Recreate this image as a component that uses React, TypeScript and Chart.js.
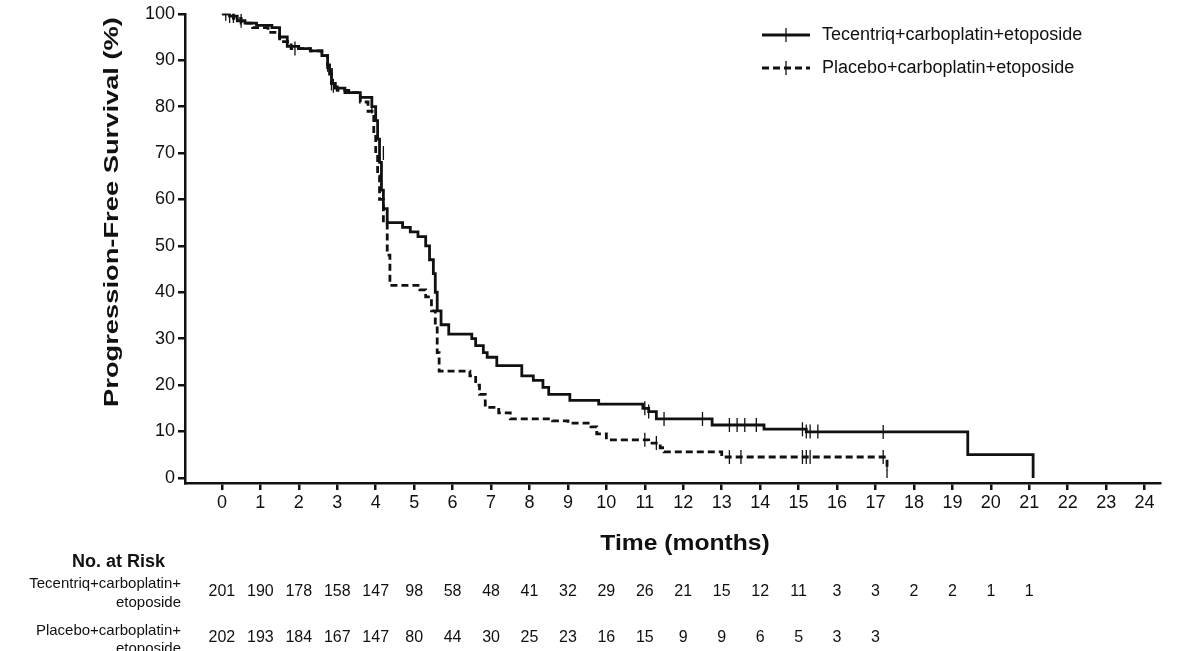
import React, { useEffect, useRef } from "react";
import { Chart, registerables } from "chart.js";
Chart.register(...registerables);

const tecTime = [0,0.2,0.4,0.6,0.9,1.3,1.5,1.7,2.0,2.3,2.6,2.75,2.8,2.85,2.95,3.2,3.6,3.9,4.0,4.05,4.1,4.15,4.2,4.3,4.7,4.9,5.1,5.3,5.4,5.5,5.55,5.6,5.7,5.9,6.5,6.6,6.8,6.9,7.15,7.8,8.1,8.35,8.5,9.05,9.8,10.95,11.1,11.3,12.75,14.1,15.2,19.4,21.1];
const tecSurv = [100,99.5,98.5,98,97.5,97,95,93,92.5,92,91,89,87,85,84,83,82,80,77,73,68,62,58,55,54,53,52,50,47,44,40,36,33,31,30,28.5,27,26,24.2,22,21,19.5,18,16.7,15.9,15,14.3,12.7,11.4,10.5,9.9,5,0];
const tecCensT = [0.1,0.3,0.5,1.9,2.75,2.85,2.9,3.9,4.05,11.0,11.1,11.5,12.5,13.2,13.4,13.6,13.9,15.1,15.2,15.3,15.5,17.2];
const tecCensS = [100,99.5,98.5,92.5,89,85,84.5,80,75,15,14.3,12.7,12.7,11.4,11.4,11.4,11.4,10.5,10,10,10,9.9];

const plaTime = [0,0.3,0.5,0.8,1.2,1.5,1.8,2.3,2.6,2.75,2.85,3.0,3.3,3.6,3.8,3.95,4.0,4.05,4.1,4.2,4.3,4.37,5.15,5.3,5.45,5.55,5.6,5.65,6.45,6.6,6.7,6.85,7.2,7.5,8.6,9.0,9.6,9.75,10.0,11.1,11.4,11.5,13.0,17.3];
const plaSurv = [100,99,98,97,96,94,92.5,92,91,88,85,83.5,83,81,79,74,70,65,60,55,48,41.5,40.5,39,36,33,27,23,22,20,18,15.2,14,12.7,12.3,11.8,11,9.5,8.2,7.5,6.5,5.6,4.5,1.5];
const plaCensT = [0.2,4.2,11.0,11.3,13.2,13.5,15.1,15.2,15.3,17.2,17.3];
const plaCensS = [99.5,70,8.2,7.5,4.5,4.5,4.5,4.5,4.5,4.5,1.5];

const xTicks = Array.from({ length: 25 }, (_, i) => i);
const yTicks = [0,10,20,30,40,50,60,70,80,90,100];
const tecRisk = [201,190,178,158,147,98,58,48,41,32,29,26,21,15,12,11,3,3,2,2,1,1];
const plaRisk = [202,193,184,167,147,80,44,30,25,23,16,15,9,9,6,5,3,3];

const FONT = "Arial, 'Liberation Sans', sans-serif";
const INK = "#111";

export default function App() {
  const ref = useRef<HTMLCanvasElement>(null);
  useEffect(() => {
    document.body.style.margin = "0";
    const pts = (t: number[], s: number[]) => t.map((x, i) => ({ x, y: s[i] }));
    const riskPlugin = {
      id: "risk",
      afterDraw(chart: any) {
        const ctx = chart.ctx;
        const xs = chart.scales.x;
        ctx.save();
        ctx.fillStyle = INK;
        ctx.textBaseline = "middle";
        ctx.textAlign = "center";
        ctx.save();
        ctx.translate(685, 544);
        ctx.scale(1.12, 1);
        ctx.font = `bold 22px ${FONT}`;
        ctx.fillText("Time (months)", 0, 0);
        ctx.restore();
        ctx.save();
        ctx.translate(112, 212);
        ctx.rotate(-Math.PI / 2);
        ctx.scale(1.3, 1);
        ctx.font = `bold 21px ${FONT}`;
        ctx.fillText("Progression-Free Survival (%)", 0, 0);
        ctx.restore();
        ctx.font = `bold 18px ${FONT}`;
        ctx.textAlign = "left";
        ctx.fillText("No. at Risk", 72, 562);
        ctx.font = `15px ${FONT}`;
        ctx.textAlign = "right";
        ctx.fillText("Tecentriq+carboplatin+", 181, 584);
        ctx.fillText("etoposide", 181, 603);
        ctx.fillText("Placebo+carboplatin+", 181, 631);
        ctx.fillText("etoposide", 181, 649);
        ctx.font = `16px ${FONT}`;
        ctx.textAlign = "center";
        tecRisk.forEach((v, i) => ctx.fillText(String(v), xs.getPixelForValue(i), 592));
        plaRisk.forEach((v, i) => ctx.fillText(String(v), xs.getPixelForValue(i), 638));
        ctx.strokeStyle = INK;
        ctx.lineWidth = 2.8;
        ctx.beginPath(); ctx.moveTo(762, 35); ctx.lineTo(810, 35); ctx.stroke();
        ctx.setLineDash([7, 4]);
        ctx.beginPath(); ctx.moveTo(762, 68); ctx.lineTo(810, 68); ctx.stroke();
        ctx.setLineDash([]);
        ctx.lineWidth = 1.3;
        [35, 68].forEach((y) => { ctx.beginPath(); ctx.moveTo(786, y - 7); ctx.lineTo(786, y + 7); ctx.stroke(); });
        ctx.font = `18px ${FONT}`;
        ctx.textAlign = "left";
        ctx.fillText("Tecentriq+carboplatin+etoposide", 822, 35);
        ctx.fillText("Placebo+carboplatin+etoposide", 822, 68);
        ctx.restore();
      },
    };
    const chart = new Chart(ref.current!, {
      type: "scatter",
      data: {
        datasets: [
          { data: pts(tecTime, tecSurv), showLine: true, stepped: true, borderColor: INK, borderWidth: 2.8, pointRadius: 0, fill: false } as any,
          { data: pts(plaTime, plaSurv), showLine: true, stepped: true, borderColor: INK, borderWidth: 2.8, borderDash: [7, 4], pointRadius: 0, fill: false } as any,
          { data: pts(tecCensT, tecCensS), pointStyle: "line", rotation: 90, pointRadius: 7, borderColor: INK, borderWidth: 1.3, showLine: false } as any,
          { data: pts(plaCensT, plaCensS), pointStyle: "line", rotation: 90, pointRadius: 7, borderColor: INK, borderWidth: 1.3, showLine: false } as any,
        ],
      },
      options: {
        animation: false,
        responsive: false,
        layout: { padding: { left: 0, right: 17, top: 12, bottom: 0 } },
        plugins: { legend: { display: false }, tooltip: { enabled: false } },
        scales: {
          x: {
            type: "linear", min: -0.96, max: 24.4,
            afterBuildTicks: (s: any) => { s.ticks = xTicks.map((v) => ({ value: v })); },
            afterFit: (s: any) => { s.height = 168; },
            grid: { drawOnChartArea: false, tickLength: 7, color: INK, lineWidth: 2.5 },
            border: { color: INK, width: 2.5 },
            ticks: { color: INK, font: { size: 18, family: FONT }, padding: 2, maxRotation: 0, autoSkip: false },
          },
          y: {
            min: -1.1, max: 100,
            afterBuildTicks: (s: any) => { s.ticks = yTicks.map((v) => ({ value: v })); },
            afterFit: (s: any) => { s.width = 185; },
            grid: { drawOnChartArea: false, tickLength: 7, color: INK, lineWidth: 2.5 },
            border: { color: INK, width: 2.5 },
            ticks: { color: INK, font: { size: 18, family: FONT }, padding: 3 },
          },
        },
      } as any,
      plugins: [riskPlugin],
    });
    return () => chart.destroy();
  }, []);
  return <canvas ref={ref} width={1177} height={651} style={{ display: "block" }} />;
}
